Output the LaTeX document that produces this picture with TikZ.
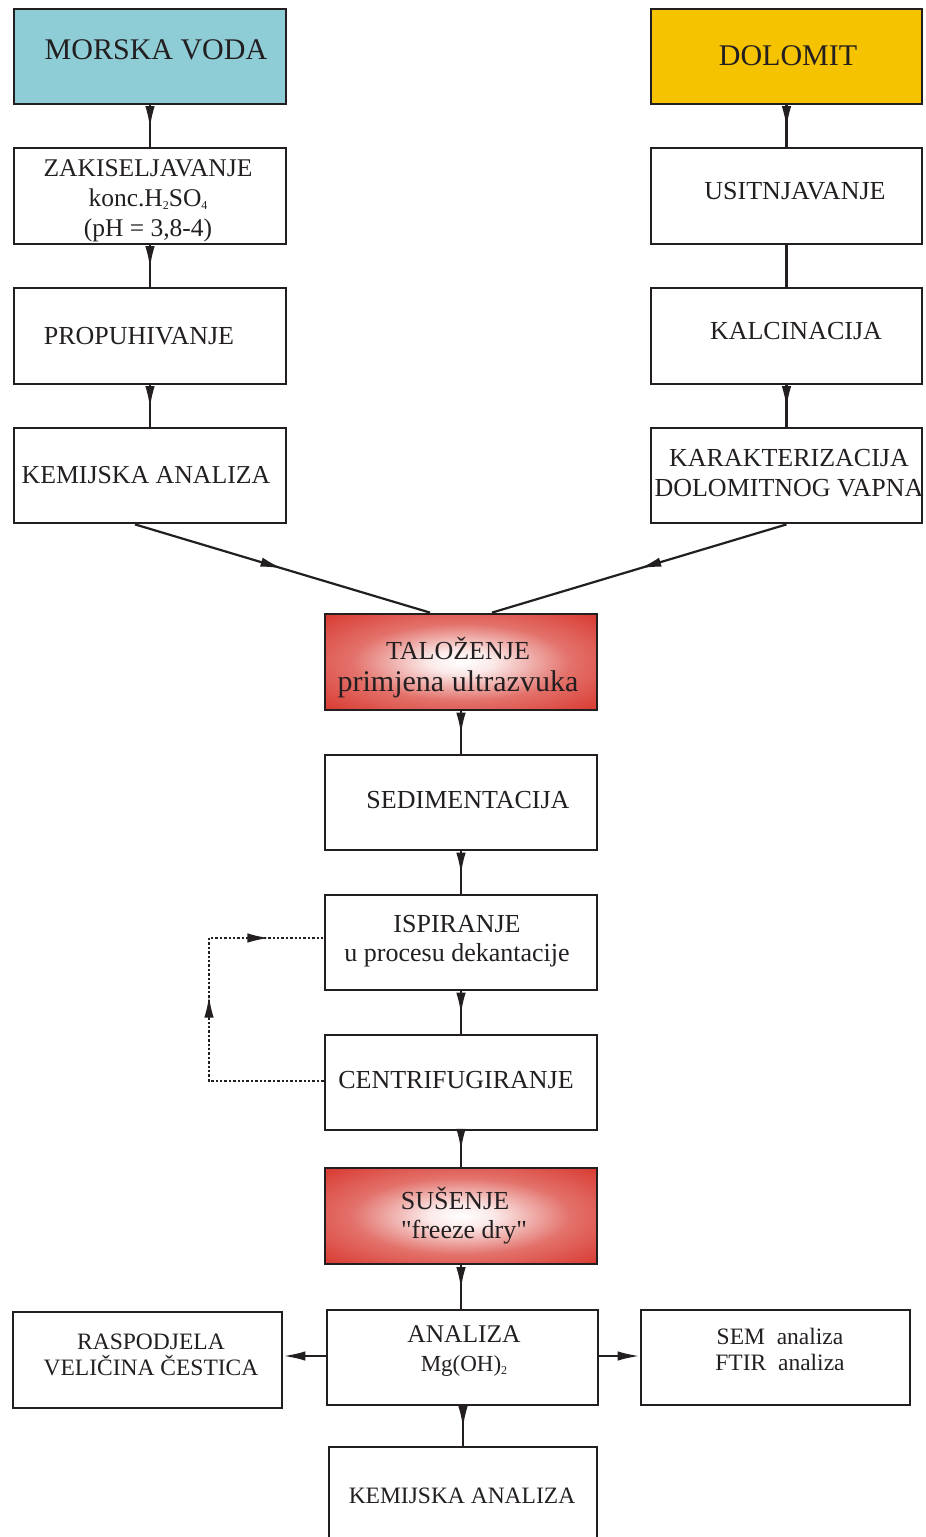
\documentclass[tikz,border=0pt]{standalone}
\usepackage{fontspec}
\setmainfont{Liberation Serif}
\newfontfamily\qfont{Liberation Serif}[Ligatures=TeXOff]
\usetikzlibrary{arrows.meta,decorations.markings,calc}
\definecolor{seacol}{RGB}{142,205,214}
\definecolor{dolcol}{RGB}{246,195,0}
\definecolor{redc}{RGB}{212,38,28}
\definecolor{ink}{RGB}{35,31,32}
\newcommand{\sbs}[1]{\raisebox{-3pt}{\fontsize{12}{12}\selectfont #1}}
\newcommand{\dq}{{\qfont"}}
\pgfdeclareradialshading{redglow}{\pgfpoint{0bp}{0bp}}{color(0bp)=(white); color(6bp)=(white!90!redc); color(20bp)=(redc!65!white); color(36bp)=(redc!92!white); color(50bp)=(redc)}
\tikzset{
  box/.style={draw=ink, line width=2.8pt, minimum width=272pt, minimum height=95pt, inner sep=0pt},
  txt/.style={text=ink, align=center, inner sep=0pt, font=\fontsize{26}{30}\selectfont},
  big/.style={txt, font=\fontsize{30}{34}\selectfont},
  small/.style={txt, font=\fontsize{23.5}{26}\selectfont},
  conn/.style={draw=ink, line width=2.2pt},
  midarrow/.style={conn, postaction={decorate}, decoration={markings, mark=at position #1 with {\arrow{Latex[length=22pt,width=9.5pt]}}}},
  midarrow/.default=0.55,
  endarrow/.style={conn, -{Latex[length=22pt,width=9.5pt]}},
  loopline/.style={draw=ink, line width=2.4pt, dash pattern=on 2.4pt off 2pt},
  redbox/.style={box, shade, shading=redglow},
}
\begin{document}
\begin{tikzpicture}[x=1pt, y=-1pt]
\useasboundingbox (0,0) rectangle (926,1537);
% left column
\node[box, fill=seacol] (sea) at (150,56.5) {};
\node[big] (seat) at (156,50) {MORSKA VODA};
\node[box, minimum height=96pt] (zak) at (150,196) {};
\node[txt, font=\fontsize{25.5}{30}\selectfont] (zakt) at (148,201) {ZAKISELJAVANJE\\konc.H\sbs{2}SO\sbs{4}\\(pH = 3,8-4)};
\node[box, minimum height=96pt] (pro) at (150,336) {};
\node[txt] (prot) at (139,336) {PROPUHIVANJE};
\node[box] (kem) at (150,475.5) {};
\node[txt, font=\fontsize{25.8}{30}\selectfont] (kemt) at (146,475) {KEMIJSKA ANALIZA};
% right column
\node[box, minimum width=271pt, fill=dolcol] (dol) at (786.5,56.5) {};
\node[big] (dolt) at (788,56) {DOLOMIT};
\node[box, minimum width=271pt, minimum height=96pt] (usi) at (786.5,196) {};
\node[txt] (usit) at (795,191) {USITNJAVANJE};
\node[box, minimum width=271pt, minimum height=96pt] (kal) at (786.5,336) {};
\node[txt] (kalt) at (796,331) {KALCINACIJA};
\node[box, minimum width=271pt] (kar) at (786.5,475.5) {};
\node[txt] (kart) at (789,473) {KARAKTERIZACIJA\\DOLOMITNOG VAPNA};
% centre column
\node[redbox, minimum height=96pt] (tal) at (461,662) {};
\node[txt, font=\fontsize{26}{32}\selectfont] (talt) at (458,668) {TALOŽENJE\\{\fontsize{30}{32}\selectfont primjena ultrazvuka}};
\node[box] (sed) at (461,802.5) {};
\node[txt] (sedt) at (468,800) {SEDIMENTACIJA};
\node[box] (isp) at (461,942.5) {};
\node[txt, font=\fontsize{26}{29}\selectfont] (ispt) at (457,941) {ISPIRANJE\\u procesu dekantacije};
\node[box] (cen) at (461,1082.5) {};
\node[txt] (cent) at (456,1080) {CENTRIFUGIRANJE};
\node[redbox, minimum height=96pt] (sus) at (461,1216) {};
\node[txt, font=\fontsize{26}{29}\selectfont] (sust) at (455,1216) {SUŠENJE\\\hspace*{18pt}\dq freeze dry\dq};
\node[box, minimum width=271pt] (ana) at (462.5,1357.5) {};
\node[txt, font=\fontsize{25.5}{29}\selectfont] (anat) at (464,1351) {ANALIZA\\{\fontsize{23}{29}\selectfont Mg(OH)\sbs{2}}};
\node[box, minimum width=269pt, minimum height=96pt] (ras) at (147.5,1360) {};
\node[small] (rast) at (151,1355) {RASPODJELA\\VELIČINA ČESTICA};
\node[box, minimum width=269pt] (sem) at (775.5,1357.5) {};
\node[small] (semt) at (780,1349) {SEM\ \ analiza\\FTIR\ \ analiza};
\node[box, minimum width=268pt, minimum height=96pt] (kem2) at (463,1495) {};
\node[small] (kem2t) at (462,1496) {KEMIJSKA ANALIZA};
% connectors
\draw[midarrow] (sea.south) -- (zak.north);
\draw[midarrow] (zak.south) -- (pro.north);
\draw[midarrow] (pro.south) -- (kem.north);
\draw[midarrow] (dol.south) -- (usi.north);
\draw[conn] (usi.south) -- (kal.north);
\draw[midarrow] (kal.south) -- (kar.north);
\draw[midarrow=0.5] ($(kem.south)+(-15,0)$) -- ($(tal.north)+(-31,0)$);
\draw[midarrow=0.5] (kar.south) -- ($(tal.north)+(31,0)$);
\draw[midarrow] (tal.south) -- (sed.north);
\draw[midarrow] (sed.south) -- (isp.north);
\draw[midarrow] (isp.south) -- (cen.north);
\draw[midarrow] (cen.south) -- (sus.north);
\draw[midarrow] (sus.south) -- (sus.south |- ana.north);
\draw[midarrow] (ana.south -| kem2.north) -- (kem2.north);
\draw[endarrow] (ana.west |- 0,1356) -- (ras.east |- 0,1356);
\draw[endarrow] (ana.east |- 0,1356) -- (sem.west |- 0,1356);
% dotted loop
\coordinate (lb) at (209,1081);
\coordinate (lt) at (209,938);
\draw[loopline, postaction={decorate}, decoration={markings,
   mark=at position 200pt with {\arrow{Latex[length=22pt,width=9.5pt]}},
   mark=at position 318pt with {\arrow{Latex[length=22pt,width=9.5pt]}}}]
  (cen.west |- lb) -- (lb) -- (lt) -- (isp.west |- lt);
\end{tikzpicture}
\end{document}
